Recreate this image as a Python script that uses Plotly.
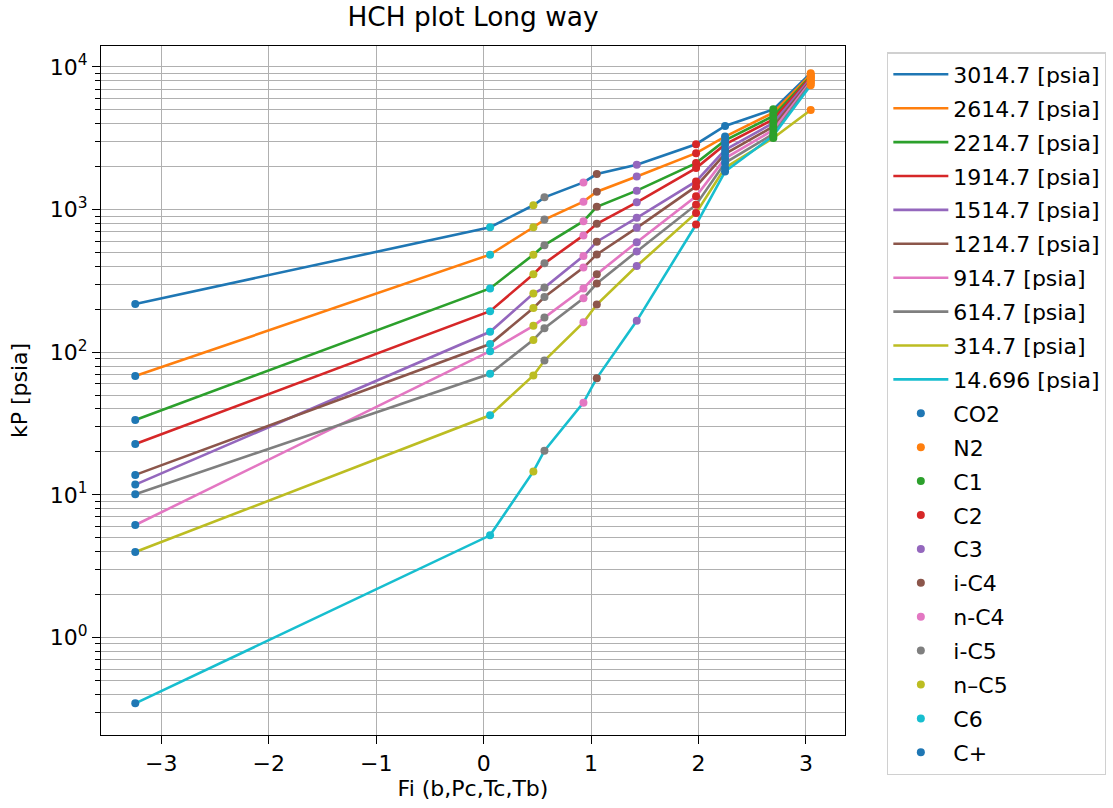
import plotly.graph_objects as go

# ---- data -------------------------------------------------------------
components = ["CO2", "N2", "C1", "C2", "C3", "i-C4", "n-C4", "i-C5", "n\u2013C5", "C6", "C+"]
fi = [2.247, 3.044, 2.696, 1.977, 1.425, 1.053, 0.929, 0.566, 0.463, 0.06, -3.242]

pressures = ["3014.7", "2614.7", "2214.7", "1914.7", "1514.7", "1214.7", "914.7", "614.7", "314.7", "14.696"]

# kP [psia] per component (same order as `components`)
kp_3014_7 = [3855, 9036, 5044, 2874, 2061, 1774, 1550, 1218, 1072, 752, 218]
kp_2614_7 = [3248, 8823, 4788, 2487, 1708, 1335, 1137, 851, 752, 483, 68]
kp_2214_7 = [3055, 8610, 4529, 2118, 1357, 1045, 829, 563, 483, 280, 33.5]
kp_1914_7 = [2864, 8473, 4285, 1954, 1125, 795, 659, 420, 352, 194, 22.7]
kp_1514_7 = [2624, 8275, 4050, 1576, 875, 595, 472, 284, 258, 139, 11.8]
kp_1214_7 = [2461, 8076, 3827, 1454, 745, 485, 392, 244, 204, 114, 13.8]
kp_914_7 = [2287, 7886, 3617, 1238, 591, 352, 280, 175, 153, 101.6, 6.14]
kp_614_7 = [2127, 7701, 3389, 1083, 509, 303, 239, 147, 122, 70.6, 10.1]
kp_314_7 = [1963, 4990, 3178, 948, 402, 216, 162, 87.4, 68.7, 36.1, 3.97]
kp_14_696 = [1849, 7453, 3300, 786, 166, 65.8, 44.3, 20.4, 14.6, 5.2, 0.345]

kp_series = [kp_3014_7, kp_2614_7, kp_2214_7, kp_1914_7, kp_1514_7,
             kp_1214_7, kp_914_7, kp_614_7, kp_314_7, kp_14_696]

y_major = [1, 10, 100, 1000, 10000]
y_major_text = ["10<sup>0</sup>", "10<sup>1</sup>", "10<sup>2</sup>", "10<sup>3</sup>", "10<sup>4</sup>"]

# ---- style ------------------------------------------------------------
tab10 = ["#1f77b4", "#ff7f0e", "#2ca02c", "#d62728", "#9467bd",
         "#8c564b", "#e377c2", "#7f7f7f", "#bcbd22", "#17becf"]
FONT = "DejaVu Sans"
GRID = "#b0b0b0"
FS = 22

W, H = 1113, 808
L, R, T, B = 101, 268, 46, 73

fig = go.Figure()

order = sorted(range(len(fi)), key=lambda i: fi[i])
for k, (p, vals) in enumerate(zip(pressures, kp_series)):
    fig.add_trace(go.Scatter(
        x=[fi[i] for i in order], y=[vals[i] for i in order],
        mode="lines", name=f"{p} [psia]", legendgroup=f"l{k}",
        line=dict(color=tab10[k % 10], width=2.6),
    ))

for j, comp in enumerate(components):
    fig.add_trace(go.Scatter(
        x=[fi[j]] * len(kp_series), y=[vals[j] for vals in kp_series],
        mode="markers", name=comp, legendgroup=f"c{j}",
        marker=dict(color=tab10[(len(kp_series) + j) % 10], size=8),
    ))

minor_vals = [m * 10 ** e for e in range(-1, 5) for m in range(2, 10)]

fig.update_layout(
    width=W, height=H,
    margin=dict(l=L, r=R, t=T, b=B, autoexpand=False),
    paper_bgcolor="white", plot_bgcolor="white",
    font=dict(family=FONT, size=FS, color="black"),
    title=dict(text="HCH plot Long way", x=(L + (W - R)) / 2 / W, xanchor="center",
               y=1 - 17 / H, yanchor="middle", font=dict(size=26.4, color="black")),
    showlegend=True,
    legend=dict(x=1.0565, y=0.991, xanchor="left", yanchor="top",
                bgcolor="white", bordercolor="#d0d0d0", borderwidth=1.3,
                font=dict(size=FS), tracegroupgap=2.3, itemwidth=55,
                maxheight=790),
    xaxis=dict(range=[-3.561, 3.363], tick0=0, dtick=1, automargin=False,
               showgrid=True, gridcolor=GRID, gridwidth=1.3, zeroline=False,
               showline=True, linecolor="black", linewidth=1.3, mirror=True,
               ticks="outside", ticklen=8, tickwidth=1.3, tickcolor="black",
               tickfont=dict(size=FS),
               title=dict(text="Fi (b,Pc,Tc,Tb)", standoff=6, font=dict(size=FS))),
    yaxis=dict(type="log", range=[-0.684, 4.147], automargin=False,
               tickvals=y_major, ticktext=y_major_text,
               showgrid=True, gridcolor=GRID, gridwidth=1.3, zeroline=False,
               showline=True, linecolor="black", linewidth=1.3, mirror=True,
               ticks="outside", ticklen=8, tickwidth=1.3, tickcolor="black",
               tickfont=dict(size=FS),
               minor=dict(tickvals=minor_vals, ticks="outside", ticklen=4.5,
                          tickwidth=1, tickcolor="black",
                          showgrid=True, gridcolor=GRID, gridwidth=1),
               title=dict(text="kP [psia]", standoff=15, font=dict(size=FS))),
)

# remove the default 8px page margin so the figure sits at the window origin
fig.write_html("out.html", config={"displayModeBar": False},
               post_script="document.body.style.margin='0';")
